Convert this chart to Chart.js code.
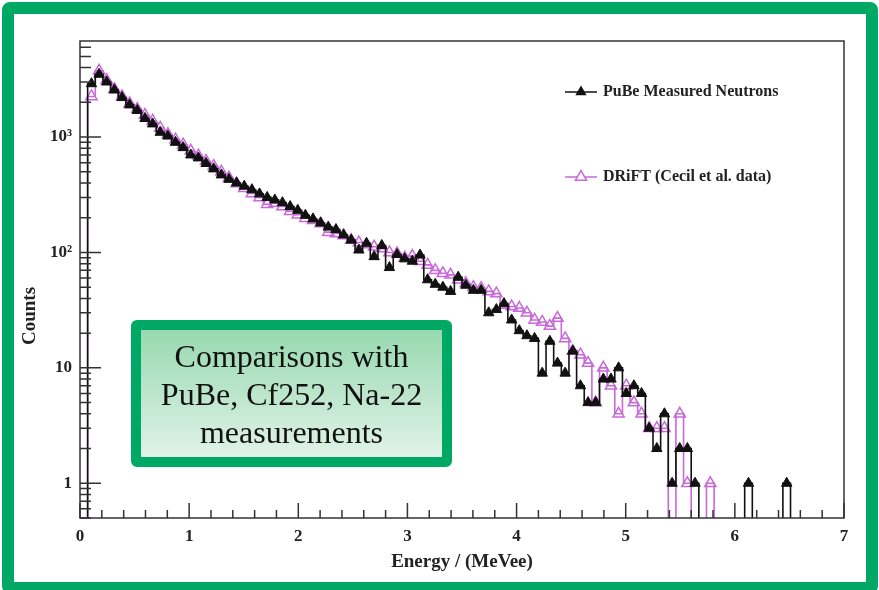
<!DOCTYPE html>
<html>
<head>
<meta charset="utf-8">
<script src="https://cdn.jsdelivr.net/npm/chart.js@4.4.1/dist/chart.umd.min.js"></script>
<style>
  html, body { margin: 0; padding: 0; background: #fff; }
  body { width: 879px; height: 590px; position: relative; overflow: hidden; }
  #frame {
    position: absolute; left: 2px; top: 2px; width: 876px; height: 592px;
    box-sizing: border-box; border: 12px solid #00a865; border-radius: 8px;
  }
  #wrap { position: absolute; left: 0; top: 0; width: 879px; height: 590px; }
  #note {
    position: absolute; left: 131px; top: 320px; width: 321px; height: 147px;
    box-sizing: border-box; border: 10px solid #00a865; border-radius: 6px;
    background: linear-gradient(#98d9b0, #e0f3e7);
    display: flex; align-items: center; justify-content: center; text-align: center;
    font-family: 'Liberation Serif', 'Times New Roman', serif; font-size: 32px; line-height: 38px; color: #111;
  }
</style>
</head>
<body>
<div id="frame"></div>
<div id="wrap"><canvas id="graph_counts" width="879" height="590"></canvas></div>
<div id="note">Comparisons with<br>PuBe, Cf252, Na-22<br>measurements</div>

<script>
// histogram binning : 100 bins between 0 and 7 MeVee
const binLow = 0;
const binHigh = 7;

// PuBe measured neutrons (counts per bin)
const pubeCounts = [
    0, 2900, 3500, 3000, 2560, 2200, 1900, 1700, 1450, 1300,
    1100, 1020, 900, 810, 700, 660, 590, 530, 470, 430,
    400, 375, 350, 322, 300, 285, 270, 250, 232, 210,
    195, 180, 166, 158, 142, 128, 105, 120, 92, 115,
    74, 96, 88, 84, 95, 58, 53, 50, 46, 61,
    52, 47, 47, 30, 32, 36, 26, 21, 19, 18,
    9, 17, 11, 9, 14, 7, 5, 5, 8, 8,
    10, 6, 7, 6, 3, 2, 4, 1, 2, 2,
    1, 0, 0, 0, 0, 0, 0, 1, 0, 0,
    0, 0, 1, 0, 0, 0, 0, 0, 0, 0
];

// DRIFT, Cecil et al. data (counts per bin)
const driftCounts = [
    0, 2250, 3750, 3100, 2600, 2250, 1950, 1750, 1550, 1380,
    1200, 1060, 950, 860, 760, 690, 620, 560, 500, 445,
    395, 360, 325, 300, 262, 268, 250, 228, 212, 198,
    190, 178, 150, 146, 140, 128, 122, 117, 112, 108,
    100, 98, 90, 93, 84, 78, 70, 66, 64, 58,
    54, 50, 49, 46, 44, 35, 34, 33, 30, 26,
    25, 23, 27, 18, 14, 13, 11, 5, 10, 7,
    4, 7, 5, 4, 3, 3, 3, 0, 4, 1,
    0, 0, 1, 0, 0, 0, 0, 0, 0, 0,
    0, 0, 0, 0, 0, 0, 0, 0, 0, 0
];

const seriesNames = ['PuBe Measured Neutrons', 'DRiFT (Cecil et al. data)'];
const xTicks = [0, 1, 2, 3, 4, 5, 6, 7];
const yTicks = [1, 10, 100, 1000];
const yTickLabels = ['1', '10', '10²', '10³'];

const serif = "'Liberation Serif', 'Times New Roman', serif";
const colBlack = '#111';
const colPink = '#c86ad8';
const yMin = 0.5;
const yMax = 6800;

const binWidth = (binHigh - binLow) / pubeCounts.length;
// empty bins are sent below the axis so the step drops down to the frame (like ROOT)
const toPoints = counts => counts.map((c, i) => ({ x: binLow + (i + 0.5) * binWidth, y: c > 0 ? c : yMin / 2 }));

// cadre + graduations vers l'interieur, titre Y et legende (style ROOT)
const rootDecor = {
    id: 'rootDecor',
    afterDraw(chart) {
        const { ctx, chartArea: a, scales: { x, y } } = chart;
        ctx.save();
        ctx.strokeStyle = '#333';
        ctx.lineWidth = 1.5;
        ctx.strokeRect(a.left, a.top, a.right - a.left, a.bottom - a.top);

        ctx.beginPath();
        for (let k = 0; k <= 35; k++) {
            const px = x.getPixelForValue(k * 0.2);
            const len = k % 5 === 0 ? 15 : 8;
            ctx.moveTo(px, a.bottom);
            ctx.lineTo(px, a.bottom - len);
        }
        for (let e = -1; e <= 3; e++) {
            for (let m = 1; m <= 9; m++) {
                const v = m * Math.pow(10, e);
                if (v < y.min || v > y.max) continue;
                const py = y.getPixelForValue(v);
                ctx.moveTo(a.left, py);
                ctx.lineTo(a.left + (m === 1 ? 21 : 11), py);
            }
        }
        ctx.stroke();

        // titre axe Y
        ctx.fillStyle = '#222';
        ctx.font = 'bold 19px ' + serif;
        ctx.textAlign = 'center';
        ctx.textBaseline = 'middle';
        ctx.translate(30, 316);
        ctx.rotate(-Math.PI / 2);
        ctx.fillText('Counts', 0, 0);
        ctx.restore();

        // legende
        const items = [
            { label: seriesNames[0], color: colBlack, filled: true, yPos: 92 },
            { label: seriesNames[1], color: colPink, filled: false, yPos: 177 }
        ];
        ctx.save();
        items.forEach(it => {
            ctx.strokeStyle = it.color;
            ctx.lineWidth = 1.5;
            ctx.beginPath();
            ctx.moveTo(565, it.yPos);
            ctx.lineTo(597, it.yPos);
            ctx.stroke();
            const r = 6.5;
            ctx.beginPath();
            ctx.moveTo(581, it.yPos - r);
            ctx.lineTo(581 + r * 0.866, it.yPos + r / 2);
            ctx.lineTo(581 - r * 0.866, it.yPos + r / 2);
            ctx.closePath();
            if (it.filled) { ctx.fillStyle = it.color; ctx.fill(); }
            else { ctx.fillStyle = '#fff'; ctx.fill(); ctx.stroke(); }
            ctx.fillStyle = '#222';
            ctx.font = 'bold 16px ' + serif;
            ctx.textAlign = 'left';
            ctx.textBaseline = 'middle';
            ctx.fillText(it.label, 603, it.yPos);
        });
        ctx.restore();
    }
};

const ctx = document.getElementById('graph_counts').getContext('2d');
new Chart(ctx, {
    type: 'line',
    data: {
        datasets: [{
            label: seriesNames[0],
            data: toPoints(pubeCounts),
            borderColor: colBlack,
            borderWidth: 1.6,
            stepped: 'middle',
            clip: 0,
            pointStyle: 'triangle',
            pointRadius: c => (c.raw && c.raw.y >= yMin ? 6 : 0),
            pointBackgroundColor: colBlack,
            pointBorderColor: colBlack,
            pointBorderWidth: 1
        }, {
            label: seriesNames[1],
            data: toPoints(driftCounts),
            borderColor: colPink,
            borderWidth: 1.6,
            stepped: 'middle',
            clip: 0,
            pointStyle: 'triangle',
            pointRadius: c => (c.raw && c.raw.y >= yMin ? 6.5 : 0),
            pointBackgroundColor: 'rgba(255,255,255,0)',
            pointBorderColor: colPink,
            pointBorderWidth: 1.5
        }]
    },
    options: {
        responsive: false,
        animation: false,
        devicePixelRatio: 1,
        layout: { padding: { left: 0, top: 41, right: 35, bottom: 0 } },
        plugins: { legend: { display: false }, tooltip: { enabled: false } },
        scales: {
            x: {
                type: 'linear',
                min: binLow,
                max: binHigh,
                afterFit: s => { s.height = 72; },
                afterBuildTicks: s => { s.ticks = xTicks.map(v => ({ value: v })); },
                grid: { display: false, drawTicks: false },
                border: { display: false },
                ticks: {
                    font: { family: serif, size: 17, weight: 'bold' },
                    color: '#222',
                    padding: 8,
                    maxRotation: 0,
                    callback: v => String(v)
                },
                title: {
                    display: true,
                    text: 'Energy / (MeVee)',
                    font: { family: serif, size: 19, weight: 'bold' },
                    color: '#222',
                    padding: { top: 0, bottom: 17 }
                }
            },
            y: {
                type: 'logarithmic',
                min: yMin,
                max: yMax,
                afterFit: s => { s.width = 80; },
                afterBuildTicks: s => { s.ticks = yTicks.map(v => ({ value: v })); },
                grid: { display: false, drawTicks: false },
                border: { display: false },
                ticks: {
                    font: { family: serif, size: 17, weight: 'bold' },
                    color: '#222',
                    padding: 8,
                    callback: v => yTickLabels[yTicks.indexOf(v)]
                }
            }
        }
    },
    plugins: [rootDecor]
});
</script>
</body>
</html>
